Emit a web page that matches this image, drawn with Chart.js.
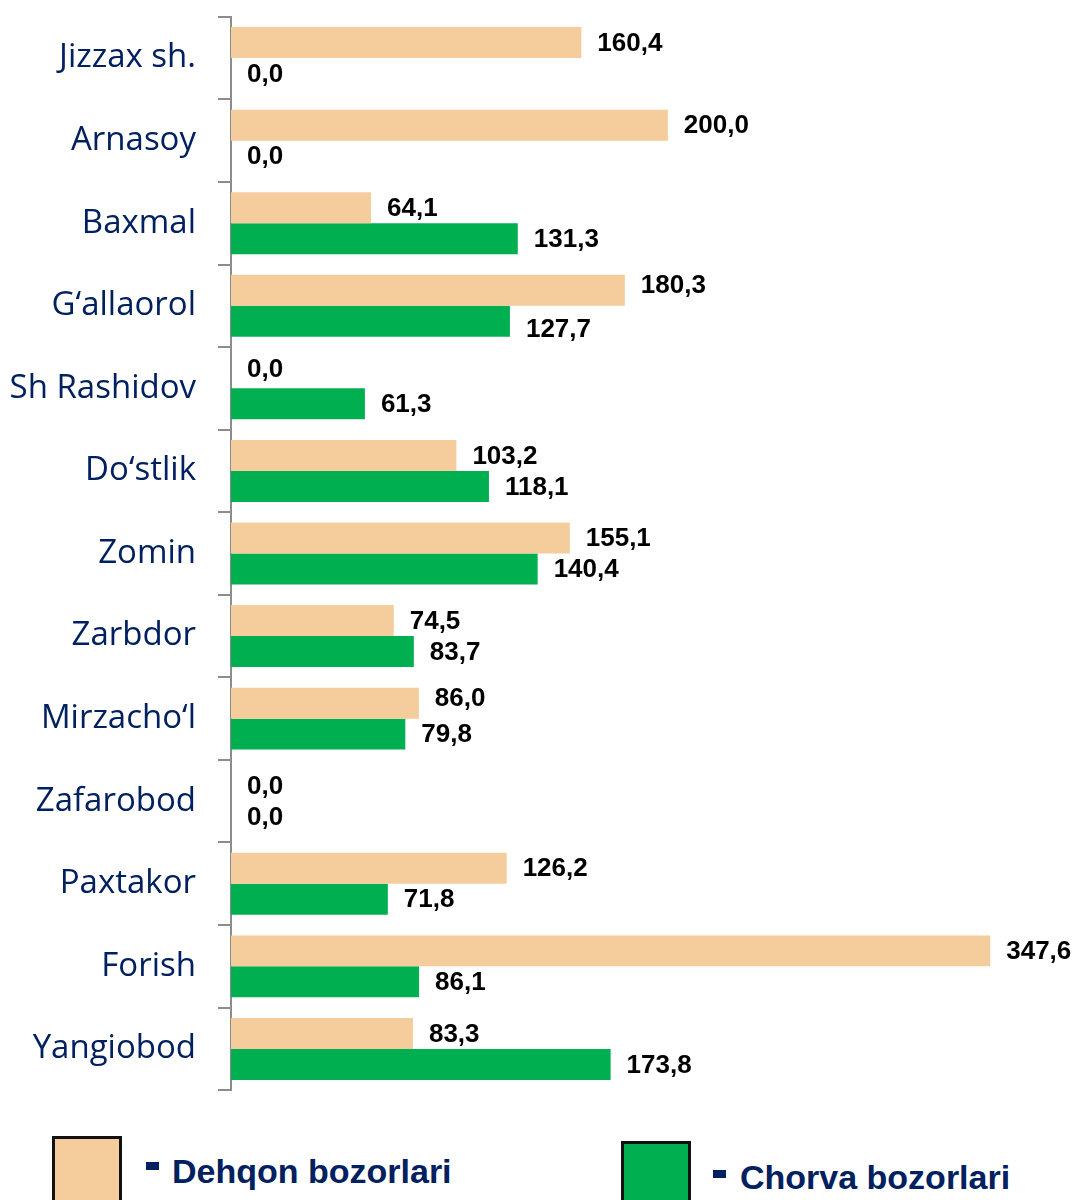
<!DOCTYPE html>
<html>
<head>
<meta charset="utf-8">
<script src="https://cdn.jsdelivr.net/npm/chart.js@4.4.1/dist/chart.umd.min.js"></script>
<style>
  html, body { margin: 0; padding: 0; background: #fff; }
  #wrap { position: relative; width: 1073px; height: 1200px; overflow: hidden; }
  #chartBox { position: absolute; left: 0; top: -25px; width: 1073px; height: 1157px; }
  .legBox { position: absolute; width: 64px; height: 80px; border: 3px solid #111; }
  .legDash { position: absolute; width: 13px; height: 8px; background: #002060; }
  .legText { position: absolute; font: bold 34px "Liberation Sans", Arial, sans-serif; color: #002060; white-space: nowrap; }
</style>
</head>
<body>
<div id="wrap">
  <div id="chartBox"><canvas id="barChart"></canvas></div>

  <div class="legBox" style="left:52px; top:1136px; background:#f5cc9b;"></div>
  <div class="legDash" style="left:146px; top:1162px;"></div>
  <div class="legText" id="leg1" style="left:172px; top:1152px;"></div>

  <div class="legBox" style="left:621px; top:1141px; background:#00b050;"></div>
  <div class="legDash" style="left:713px; top:1170px;"></div>
  <div class="legText" id="leg2" style="left:740px; top:1158px;"></div>
</div>

<script>
// districts, top to bottom
const districts = [
  "Jizzax sh.", "Arnasoy", "Baxmal", "G‘allaorol", "Sh Rashidov", "Do‘stlik",
  "Zomin", "Zarbdor", "Mirzacho‘l", "Zafarobod", "Paxtakor", "Forish", "Yangiobod"
];
const seriesNames = ["Dehqon bozorlari", "Chorva bozorlari"];
const dehqon = [160.4, 200.0, 64.1, 180.3, 0.0, 103.2, 155.1, 74.5, 86.0, 0.0, 126.2, 347.6, 83.3];
const chorva = [0.0, 0.0, 131.3, 127.7, 61.3, 118.1, 140.4, 83.7, 79.8, 0.0, 71.8, 86.1, 173.8];

const colors = ["#f5cc9b", "#00b050"];

// a few labels were moved by hand in the original (dataset-index: px)
const labelNudge = { "0-3": -5, "1-3": 8, "0-4": -4, "0-8": -5 };

document.querySelector("#leg1").textContent = seriesNames[0];
document.querySelector("#leg2").textContent = seriesNames[1];

// value labels to the right of every bar, "160,4" style
const valueLabels = {
  id: "valueLabels",
  afterDatasetsDraw(chart) {
    const ctx = chart.ctx;
    ctx.save();
    ctx.font = "bold 26px 'Liberation Sans', Arial, sans-serif";
    ctx.fillStyle = "#000";
    ctx.textAlign = "left";
    ctx.textBaseline = "middle";
    chart.data.datasets.forEach((ds, i) => {
      chart.getDatasetMeta(i).data.forEach((bar, j) => {
        const txt = ds.data[j].toFixed(1).replace(".", ",");
        const dy = labelNudge[i + "-" + j] || 0;
        ctx.fillText(txt, bar.x + 16, bar.y + 1 + dy);
      });
    });
    ctx.restore();
  },
};

const config = {
  type: "bar",
  data: {
    labels: districts,
    datasets: [
      { label: seriesNames[0], data: dehqon, backgroundColor: colors[0] },
      { label: seriesNames[1], data: chorva, backgroundColor: colors[1] },
    ],
  },
  options: {
    indexAxis: "y",
    responsive: true,
    maintainAspectRatio: false,
    animation: false,
    categoryPercentage: 0.75,
    barPercentage: 1.0,
    layout: { padding: { top: 15, bottom: 10, right: 12, left: 0 } },
    plugins: {
      legend: { display: false },
      tooltip: { enabled: false },
    },
    scales: {
      x: {
        display: false,
        min: 0,
        max: 380,
      },
      y: {
        afterFit(scale) {
          scale.width = 231;
        },
        grid: {
          offset: true,
          drawOnChartArea: false,
          tickLength: 13,
          color: "#8c8c8c",
          lineWidth: 2,
        },
        border: { display: true, color: "#8c8c8c", width: 2 },
        ticks: {
          padding: 22,
          color: "#002060",
          font: { family: "'Open Sans', sans-serif", size: 33 },
        },
      },
    },
  },
  plugins: [valueLabels],
};

const barChart = new Chart(document.querySelector("#barChart"), config);
</script>
</body>
</html>
